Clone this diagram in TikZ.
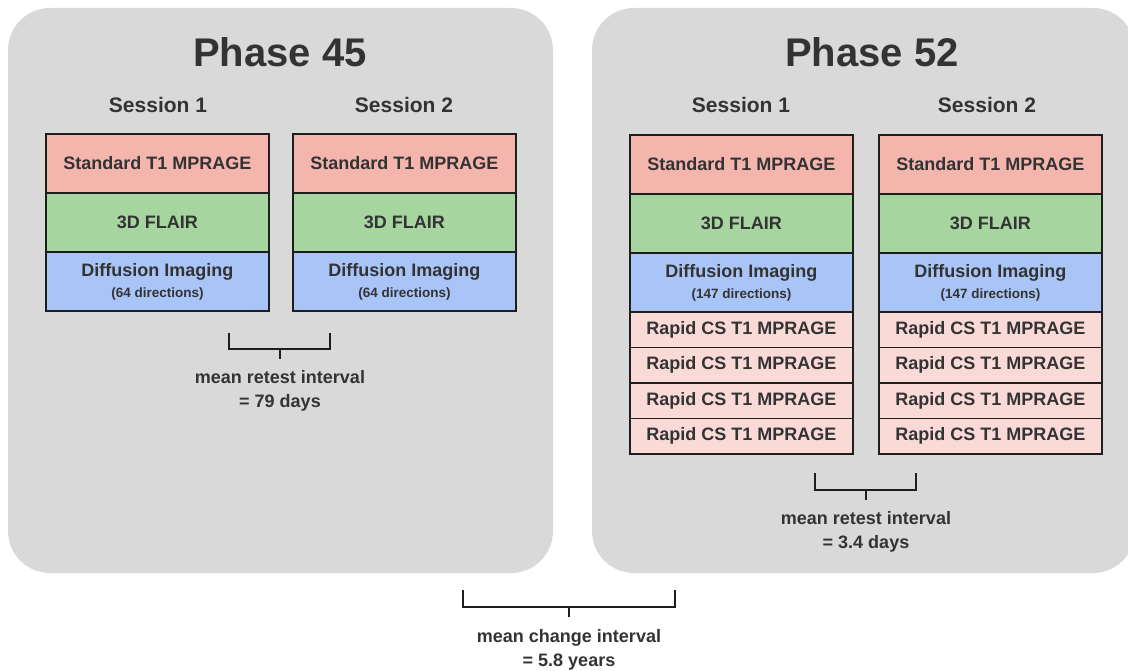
\documentclass[tikz,border=0pt]{standalone}
\usepackage{fontspec}
\setmainfont{Liberation Sans}
\definecolor{panel}{HTML}{D9D9D9}
\definecolor{txt}{HTML}{333333}
\definecolor{linec}{HTML}{1E1E1E}
\definecolor{redrow}{HTML}{F4B5AD}
\definecolor{greenrow}{HTML}{A6D5A0}
\definecolor{bluerow}{HTML}{A9C4F7}
\definecolor{pinkrow}{HTML}{FADAD6}
\tikzset{
  panelbox/.style={fill=panel, draw=none, rounded corners=42},
  title/.style={font=\bfseries\fontsize{40}{44}\selectfont, text=txt},
  session/.style={font=\bfseries\fontsize{21}{24}\selectfont, text=txt},
  row/.style={draw=linec, line width=1.8, minimum width=223, minimum height=59, inner sep=0,
    font=\bfseries\fontsize{18}{22}\selectfont, text=txt, anchor=north west, align=center},
  rapid/.style={row, fill=pinkrow, minimum height=35.5},
  brk/.style={draw=linec, line width=2.4},
  ilabel/.style={font=\bfseries\fontsize{18}{24}\selectfont, text=txt, align=center, anchor=north}
}
\newcommand{\diffrow}[1]{Diffusion Imaging\\[-1pt]{\fontsize{13.5}{16}\selectfont (#1 directions)}}
\begin{document}
\begin{tikzpicture}[x=1pt,y=-1pt]
\useasboundingbox (0,0) rectangle (1128,671);
% panels
\path[panelbox] (8,8) rectangle (553,573);
\path[panelbox] (592,8) rectangle (1135,573);
% titles
\node[title] (t45) at (280,52) {Phase 45};
\node[title] (t52) at (872,52) {Phase 52};
\node[session] (s451) at (158,105) {Session 1};
\node[session] (s452) at (404,105) {Session 2};
\node[session] (s521) at (741,105) {Session 1};
\node[session] (s522) at (987,105) {Session 2};
% Phase 45 session 1
\node[row, fill=redrow] (a1) at (45,133) {Standard T1 MPRAGE};
\node[row, fill=greenrow] (a2) at (45,192) {3D FLAIR};
\node[row, fill=bluerow] (a3) at (45,251) {\diffrow{64}};
% Phase 45 session 2
\node[row, fill=redrow] (b1) at (292,133) {Standard T1 MPRAGE};
\node[row, fill=greenrow] (b2) at (292,192) {3D FLAIR};
\node[row, fill=bluerow] (b3) at (292,251) {\diffrow{64}};
% Phase 52 session 1
\node[row, fill=redrow] (c1) at (629,134) {Standard T1 MPRAGE};
\node[row, fill=greenrow] (c2) at (629,193) {3D FLAIR};
\node[row, fill=bluerow] (c3) at (629,252) {\diffrow{147}};
\node[rapid] (c4) at (629,311) {Rapid CS T1 MPRAGE};
\node[rapid] (c5) at (629,346.5) {Rapid CS T1 MPRAGE};
\node[rapid] (c6) at (629,382) {Rapid CS T1 MPRAGE};
\node[rapid] (c7) at (629,417.5) {Rapid CS T1 MPRAGE};
% Phase 52 session 2
\node[row, fill=redrow] (d1) at (878,134) {Standard T1 MPRAGE};
\node[row, fill=greenrow] (d2) at (878,193) {3D FLAIR};
\node[row, fill=bluerow] (d3) at (878,252) {\diffrow{147}};
\node[rapid] (d4) at (878,311) {Rapid CS T1 MPRAGE};
\node[rapid] (d5) at (878,346.5) {Rapid CS T1 MPRAGE};
\node[rapid] (d6) at (878,382) {Rapid CS T1 MPRAGE};
\node[rapid] (d7) at (878,417.5) {Rapid CS T1 MPRAGE};
% brackets
\coordinate (l1) at (229,333); \coordinate (l2) at (330,333);
\coordinate (lm) at (280,349); \coordinate (ls) at (280,359);
\draw[brk] (l1) |- (l2 |- lm) -- (l2);
\draw[brk] (lm) -- (ls);
\node[ilabel] (il) at (280,367) {mean retest interval\\= 79 days};
\coordinate (r1) at (815,473); \coordinate (r2) at (916,473);
\coordinate (rm) at (866,490); \coordinate (rs) at (866,500);
\draw[brk] (r1) |- (r2 |- rm) -- (r2);
\draw[brk] (rm) -- (rs);
\node[ilabel] (ir) at (866,508) {mean retest interval\\= 3.4 days};
\coordinate (m1) at (463,590); \coordinate (m2) at (675,590);
\coordinate (mm) at (569,607); \coordinate (ms) at (569,617);
\draw[brk] (m1) |- (m2 |- mm) -- (m2);
\draw[brk] (mm) -- (ms);
\node[ilabel] (im) at (569,626) {mean change interval\\= 5.8 years};
\end{tikzpicture}
\end{document}
